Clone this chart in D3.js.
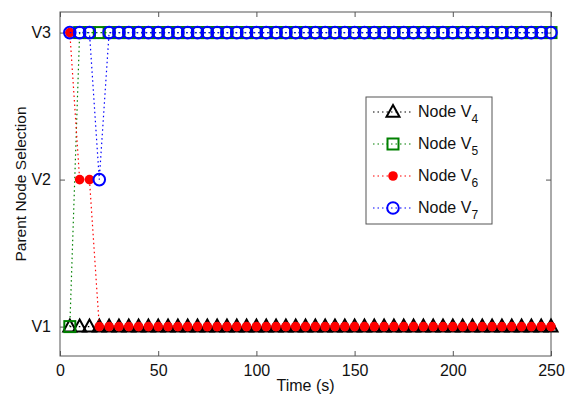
<!DOCTYPE html>
<html lang="en">
<head>
<meta charset="UTF-8">
<title>Parent Node Selection</title>
<style>
    * { margin: 0; padding: 0; }
    html, body { overflow: hidden; background: #fff; }
    text { font-family: Arial, "Liberation Sans", sans-serif; }
</style>
</head>
<body>
<div id="chart"></div>
<script src="https://cdn.jsdelivr.net/npm/d3@7"></script>
<script>
    // time samples (s)
    const time = [5, 10, 15, 20, 25, 30, 35, 40, 45, 50, 55, 60, 65, 70, 75, 80, 85, 90, 95, 100,
        105, 110, 115, 120, 125, 130, 135, 140, 145, 150, 155, 160, 165, 170, 175, 180, 185, 190, 195, 200,
        205, 210, 215, 220, 225, 230, 235, 240, 245, 250]

    // selected parent (1 = V1, 2 = V2, 3 = V3)
    const nodeV4 = [1, 1, 1, 1, 1, 1, 1, 1, 1, 1, 1, 1, 1, 1, 1, 1, 1, 1, 1, 1, 1, 1, 1, 1, 1,
        1, 1, 1, 1, 1, 1, 1, 1, 1, 1, 1, 1, 1, 1, 1, 1, 1, 1, 1, 1, 1, 1, 1, 1, 1]
    const nodeV5 = [1, 3, 3, 3, 3, 3, 3, 3, 3, 3, 3, 3, 3, 3, 3, 3, 3, 3, 3, 3, 3, 3, 3, 3, 3,
        3, 3, 3, 3, 3, 3, 3, 3, 3, 3, 3, 3, 3, 3, 3, 3, 3, 3, 3, 3, 3, 3, 3, 3, 3]
    const nodeV6 = [3, 2, 2, 1, 1, 1, 1, 1, 1, 1, 1, 1, 1, 1, 1, 1, 1, 1, 1, 1, 1, 1, 1, 1, 1,
        1, 1, 1, 1, 1, 1, 1, 1, 1, 1, 1, 1, 1, 1, 1, 1, 1, 1, 1, 1, 1, 1, 1, 1, 1]
    const nodeV7 = [3, 3, 3, 2, 3, 3, 3, 3, 3, 3, 3, 3, 3, 3, 3, 3, 3, 3, 3, 3, 3, 3, 3, 3, 3,
        3, 3, 3, 3, 3, 3, 3, 3, 3, 3, 3, 3, 3, 3, 3, 3, 3, 3, 3, 3, 3, 3, 3, 3, 3]

    const xTicks = [0, 50, 100, 150, 200, 250]
    const yTicks = [1, 2, 3]
    const yTickLabels = ['V1', 'V2', 'V3']

    const seriesNames = ['4', '5', '6', '7']

    function drawChart() {
        const width = 575
        const height = 400
        const margin = { top: 12, right: 24, bottom: 44, left: 60 }

        const svg = d3.select('#chart')
            .append('svg')
            .attr('width', width)
            .attr('height', height)
            .style('background-color', '#fff')

        const x = d3.scaleLinear().domain([0, 250]).range([margin.left, width - margin.right])
        const y = d3.scaleLinear().domain([0.8, 3.14]).range([height - margin.bottom, margin.top])

        const axisColor = '#555'
        const tickLen = 5

        // frame
        svg.append('rect')
            .attr('x', x(0))
            .attr('y', y(3.14))
            .attr('width', x(250) - x(0))
            .attr('height', y(0.8) - y(3.14))
            .attr('fill', 'none')
            .attr('stroke', axisColor)
            .attr('stroke-width', 1)

        // inward ticks, matlab-style
        const axisB = d3.axisBottom(x).tickValues(xTicks).tickSize(-tickLen).tickPadding(9)
        const axisT = d3.axisTop(x).tickValues(xTicks).tickSize(-tickLen).tickFormat('')
        const axisL = d3.axisLeft(y).tickValues(yTicks).tickSize(-tickLen).tickPadding(9)
            .tickFormat((d, i) => yTickLabels[i])
        const axisR = d3.axisRight(y).tickValues(yTicks).tickSize(-tickLen).tickFormat('')

        const axes = [
            [axisB, `translate(0,${y(0.8)})`],
            [axisT, `translate(0,${y(3.14)})`],
            [axisL, `translate(${x(0)},0)`],
            [axisR, `translate(${x(250)},0)`]
        ]
        axes.forEach(([ax, tr]) => {
            const g = svg.append('g').attr('transform', tr).call(ax)
            g.select('.domain').remove()
            g.selectAll('line').attr('stroke', axisColor)
            g.selectAll('text').attr('fill', '#111').style('font-size', '16px')
                .style('font-family', 'Arial, "Liberation Sans", sans-serif')
        })

        svg.append('text')
            .attr('x', (x(0) + x(250)) / 2)
            .attr('y', 391)
            .attr('text-anchor', 'middle')
            .attr('fill', '#111')
            .style('font-size', '16px')
            .text('Time (s)')

        svg.append('text')
            .attr('transform', `translate(26,${(y(0.8) + y(3.14)) / 2}) rotate(-90)`)
            .attr('text-anchor', 'middle')
            .attr('fill', '#111')
            .style('font-size', '15.5px')
            .text('Parent Node Selection')

        const series = [
            { vals: nodeV4, color: '#000000', marker: 'triangle' },
            { vals: nodeV5, color: '#008000', marker: 'square' },
            { vals: nodeV6, color: '#ff0000', marker: 'dot' },
            { vals: nodeV7, color: '#0000ff', marker: 'circle' }
        ]

        const line = d3.line().x(d => x(d[0])).y(d => y(d[1]))

        function drawMarker(g, kind, color, cx, cy) {
            if (kind === 'triangle') {
                g.append('path')
                    .attr('d', `M${cx},${cy - 7} L${cx + 6.5},${cy + 4.8} L${cx - 6.5},${cy + 4.8} Z`)
                    .attr('fill', 'none')
                    .attr('stroke', color)
                    .attr('stroke-width', 2)
                    .attr('stroke-linejoin', 'miter')
            } else if (kind === 'square') {
                g.append('rect')
                    .attr('x', cx - 5.5).attr('y', cy - 5.5)
                    .attr('width', 11).attr('height', 11)
                    .attr('fill', 'none')
                    .attr('stroke', color)
                    .attr('stroke-width', 2)
            } else if (kind === 'dot') {
                g.append('circle')
                    .attr('cx', cx).attr('cy', cy).attr('r', 4.8)
                    .attr('fill', color)
            } else {
                g.append('circle')
                    .attr('cx', cx).attr('cy', cy).attr('r', 5.8)
                    .attr('fill', 'none')
                    .attr('stroke', color)
                    .attr('stroke-width', 2)
            }
        }

        series.forEach(s => {
            const pts = time.map((t, i) => [t, s.vals[i]])
            const g = svg.append('g')
            g.append('path')
                .attr('d', line(pts))
                .attr('fill', 'none')
                .attr('stroke', s.color)
                .attr('stroke-width', 1.2)
                .attr('stroke-dasharray', '1.5,3')
            pts.forEach(p => drawMarker(g, s.marker, s.color, x(p[0]), y(p[1])))
        })

        // legend
        const legend = svg.append('g').attr('transform', 'translate(366,97)')
        legend.append('rect')
            .attr('width', 126)
            .attr('height', 127)
            .attr('fill', '#fff')
            .attr('stroke', axisColor)
            .attr('stroke-width', 1)

        series.forEach((s, i) => {
            const ly = 15 + i * 32
            const g = legend.append('g')
            g.append('line')
                .attr('x1', 7).attr('x2', 46)
                .attr('y1', ly).attr('y2', ly)
                .attr('stroke', s.color)
                .attr('stroke-width', 1.2)
                .attr('stroke-dasharray', '1.5,3')
            drawMarker(g, s.marker, s.color, 27, ly)
            const t = g.append('text')
                .attr('x', 52)
                .attr('y', ly + 5)
                .attr('fill', '#111')
                .style('font-size', '16px')
                .text('Node V')
            t.append('tspan')
                .attr('dy', 6)
                .style('font-size', '12px')
                .text(seriesNames[i])
        })
    }

    drawChart()
</script>
</body>
</html>
